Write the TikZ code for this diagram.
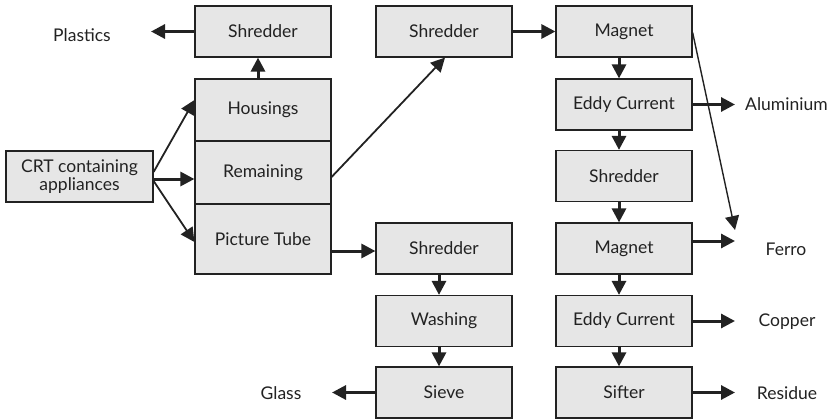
\documentclass[tikz,border=0pt]{standalone}
\usepackage{fontspec}
\setmainfont{Lato}
\usetikzlibrary{arrows.meta}
\definecolor{boxfill}{HTML}{E6E6E6}
\definecolor{ink}{HTML}{222222}
\begin{document}
\begin{tikzpicture}[x=1pt,y=-1pt,
  font=\fontsize{17.5}{19}\selectfont, text=ink,
  procbox/.style={draw=ink, line width=1.2pt, fill=boxfill, minimum width=136pt,
    minimum height=51pt, inner sep=0pt, align=center},
  outlabel/.style={inner sep=0pt},
  flow/.style={draw=ink, line width=3pt, -{Triangle[length=14pt,width=14pt]}},
  thinflow/.style={draw=ink, line width=1.8pt, -{Triangle[length=14pt,width=14pt]}}]
\useasboundingbox (0,0) rectangle (835,420);

% left column
\node[procbox] (shredA) at (263,31.5) {Shredder};
\node[procbox, minimum height=62pt] (housings) at (263,110) {Housings};
\node[procbox, minimum height=63pt] (remaining) at (263,172.5) {Remaining};
\node[procbox, minimum height=70pt] (tube) at (263,239) {Picture Tube};
\node[procbox, minimum width=147pt, font=\fontsize{17.5}{17.5}\selectfont] (crt) at (79.5,176.5) {CRT containing\\appliances};

% middle column
\node[procbox] (shredB) at (444,31.5) {Shredder};
\node[procbox] (shredD) at (444,248.5) {Shredder};
\node[procbox] (washing) at (444,321) {Washing};
\node[procbox] (sieve) at (444,392.5) {Sieve};

% right column
\node[procbox] (magA) at (624,31.5) {Magnet};
\node[procbox] (eddyA) at (624,104.5) {Eddy Current};
\node[procbox] (shredC) at (624,176) {Shredder};
\node[procbox] (magB) at (624,248.5) {Magnet};
\node[procbox] (eddyB) at (624,321) {Eddy Current};
\node[procbox] (sifter) at (624,392.5) {Sifter};

% output labels
\node[outlabel] (plastics) at (82,35) {Plastics};
\node[outlabel, anchor=west] (alu) at (745,104) {Aluminium};
\node[outlabel] (ferro) at (786,249) {Ferro};
\node[outlabel] (copper) at (787,322) {Copper};
\node[outlabel] (residue) at (787,393) {Residue};
\node[outlabel] (glass) at (281,393) {Glass};

% arrow tips of the outputs
\coordinate (plTip) at (151,31.5);
\coordinate (alTip) at (735,104.5);
\coordinate (feTip) at (735,241);
\coordinate (feTip2) at (735,230);
\coordinate (cuTip) at (735,321);
\coordinate (reTip) at (735,392.5);
\coordinate (glTip) at (332,392.5);

% dismantling
\draw[thinflow] ([yshift=4.5pt]crt.east) -- ([yshift=10pt]housings.west);
\draw[flow] ([yshift=-2.5pt]crt.east) -- ([yshift=-2.5pt]crt.east -| remaining.west);
\draw[thinflow] ([yshift=-4.5pt]crt.east) -- ([yshift=-3pt]tube.west);
\draw[flow] ([xshift=-5pt]housings.north) -- ([xshift=-5pt]shredA.south);
\draw[flow] (shredA.west) -- (plTip);

% remaining parts
\draw[thinflow] ([yshift=-4.5pt]remaining.east) -- ([xshift=1pt]shredB.south);
\draw[flow] (shredB.east) -- (magA.west);
\draw[flow] ([xshift=-5pt]magA.south) -- ([xshift=-5pt]eddyA.north);
\draw[flow] ([xshift=-5pt]eddyA.south) -- ([xshift=-5pt]shredC.north);
\draw[flow] ([xshift=-5pt]shredC.south) -- ([xshift=-5pt]magB.north);
\draw[flow] ([xshift=-5pt]magB.south) -- ([xshift=-5pt]eddyB.north);
\draw[flow] ([xshift=-5pt]eddyB.south) -- ([xshift=-5pt]sifter.north);
\draw[flow] (eddyA.east) -- (alTip);
\path (magA.north east) ++(0,27) coordinate (magOut);
\draw[thinflow, line width=1.4pt] (magOut) -- (feTip2);
\draw[flow] ([yshift=7.5pt]magB.east) -- (feTip);
\draw[flow] (eddyB.east) -- (cuTip);
\draw[flow] (sifter.east) -- (reTip);

% picture tube
\draw[flow] ([yshift=-12pt]tube.east) -- ([yshift=-2.5pt]shredD.west);
\draw[flow] ([xshift=-5pt]shredD.south) -- ([xshift=-5pt]washing.north);
\draw[flow] ([xshift=-5pt]washing.south) -- ([xshift=-5pt]sieve.north);
\draw[flow] (sieve.west) -- (glTip);
\end{tikzpicture}
\end{document}
